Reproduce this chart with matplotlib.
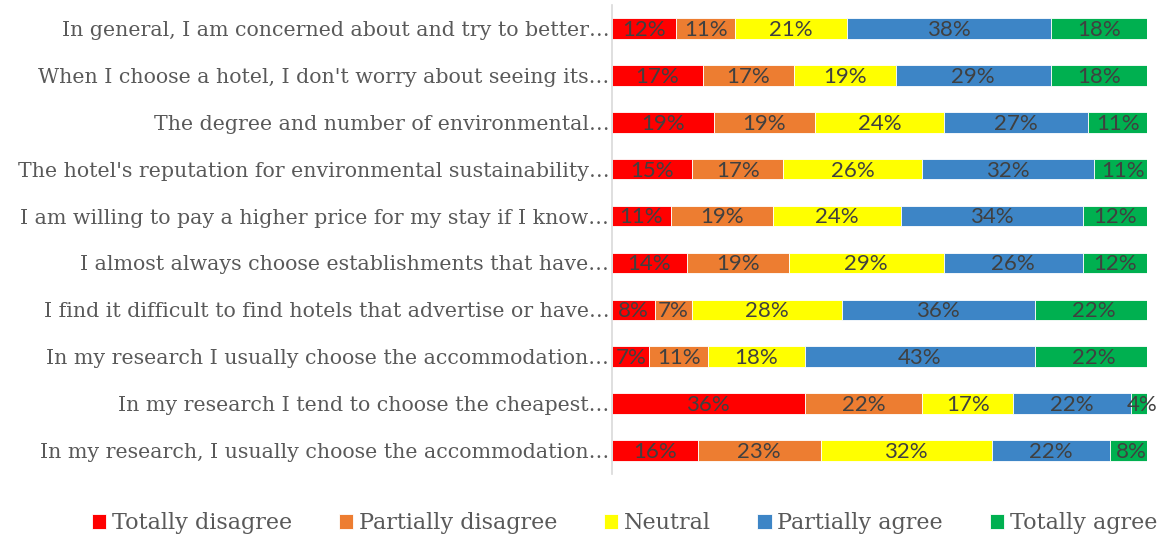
import matplotlib
matplotlib.use("Agg")
import matplotlib.pyplot as plt
import numpy as np

# Survey statements (top to bottom) and response shares in percent
statements = [
    "In general, I am concerned about and try to better\u2026",
    "When I choose a hotel, I don't worry about seeing its\u2026",
    "The degree and number of environmental\u2026",
    "The hotel's reputation for environmental sustainability\u2026",
    "I am willing to pay a higher price for my stay if I know\u2026",
    "I almost always choose establishments that have\u2026",
    "I find it difficult to find hotels that advertise or have\u2026",
    "In my research I usually choose the accommodation\u2026",
    "In my research I tend to choose the cheapest\u2026",
    "In my research, I usually choose the accommodation\u2026",
]
responses = ["Totally disagree", "Partially disagree", "Neutral",
             "Partially agree", "Totally agree"]
totally_disagree = [12, 17, 19, 15, 11, 14, 8, 7, 36, 16]
partially_disagree = [11, 17, 19, 17, 19, 19, 7, 11, 22, 23]
neutral = [21, 19, 24, 26, 24, 29, 28, 18, 17, 32]
partially_agree = [38, 29, 27, 32, 34, 26, 36, 43, 22, 22]
totally_agree = [18, 18, 11, 11, 12, 12, 22, 22, 4, 8]

series = [totally_disagree, partially_disagree, neutral,
          partially_agree, totally_agree]
colors = ["#FF0000", "#ED7D31", "#FFFF00", "#3D85C6", "#00B050"]

fig = plt.figure(figsize=(11.65, 5.43), dpi=100)
ax = fig.add_axes([612 / 1165, 1 - 474 / 543, 535 / 1165, 469 / 543])

y = np.arange(len(statements))
left = np.zeros(len(statements))
for name, vals, col in zip(responses, series, colors):
    vals = np.array(vals, dtype=float)
    ax.barh(y, vals, left=left, height=0.44, color=col,
            edgecolor="#FFFFFF", linewidth=0.6, label=name)
    for yi, l, v in zip(y, left, vals):
        ax.text(l + v / 2, yi + 0.03, f"{int(v)}%", ha="center", va="center",
                fontsize=16, color="#404040", family="Lato", weight="normal",
                clip_on=False)
    left += vals

ax.set_xlim(0, 100)
ax.set_ylim(len(statements) - 0.5, -0.5)
ax.set_yticks(y)
ax.set_yticklabels(statements, fontsize=14.8, color="#595959",
                   family="DejaVu Serif")
ax.tick_params(axis="y", length=0, pad=2)
ax.set_xticks([])
for s in ["top", "right", "bottom"]:
    ax.spines[s].set_visible(False)
ax.spines["left"].set_color("#D9D9D9")
ax.spines["left"].set_linewidth(1.2)

handles, labels = ax.get_legend_handles_labels()
leg = fig.legend(handles, labels, loc="center", bbox_to_anchor=(0.536, 1 - 523 / 543),
                 ncol=5, frameon=False, handlelength=0.65, handleheight=0.65,
                 handletextpad=0.25, columnspacing=2.1,
                 prop={"family": "DejaVu Serif", "size": 16})
for t in leg.get_texts():
    t.set_color("#595959")

fig.savefig("out.png", dpi=100)
